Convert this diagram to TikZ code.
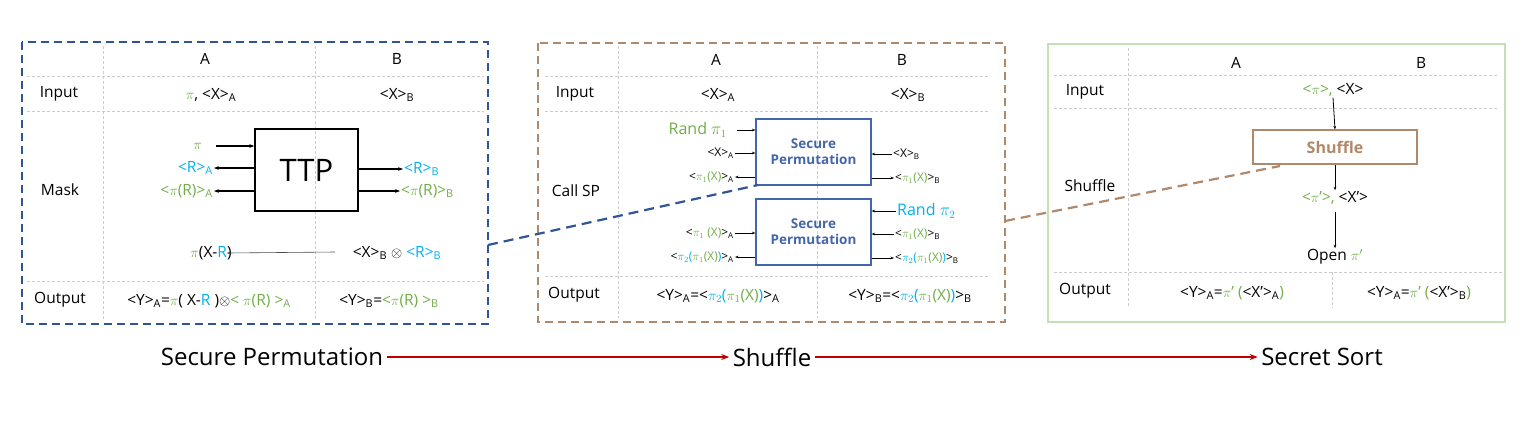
\documentclass[tikz,border=0pt]{standalone}
\usepackage{fontspec}
\setmainfont{Open Sans}
\usetikzlibrary{arrows.meta}
\definecolor{gr}{RGB}{112,173,71}
\definecolor{cy}{RGB}{0,176,240}
\definecolor{bl}{RGB}{47,85,151}
\definecolor{bx}{RGB}{68,102,170}
\definecolor{br}{RGB}{176,136,106}
\definecolor{lg}{RGB}{197,224,180}
\definecolor{rd}{RGB}{192,0,0}
\newcommand{\G}[1]{\textcolor{gr}{#1}}
\newcommand{\C}[1]{\textcolor{cy}{#1}}
\newcommand{\sub}[1]{\textsubscript{#1}}
\tikzset{
 grid/.style={draw=black!20,dash pattern=on 3pt off 2pt,line width=0.6pt},
 t/.style={font=\fontsize{15.5}{17}\selectfont,inner sep=1pt},
 ts/.style={font=\fontsize{12}{14}\selectfont,inner sep=1pt},
 arr/.style={-{Stealth[length=5pt]},line width=1.3pt},
 sarr/.style={-{Stealth[length=3.5pt]},line width=0.6pt},
 sp/.style={draw=bx,line width=1.2pt,minimum width=115pt,minimum height=66pt,align=center,font=\bfseries\fontsize{13.5}{16}\selectfont,text=bx},
 big/.style={font=\fontsize{24}{27}\selectfont},
}
\begin{document}
\begin{tikzpicture}[x=1pt,y=-1pt]
\useasboundingbox (0,0) rectangle (1522,432);
% ---------- Left panel
\draw[grid] (27,76)--(484,76) (27,111)--(484,111) (27,281)--(484,281) (103,46)--(103,320) (315,46)--(315,320);
\draw[bl,line width=2pt,dash pattern=on 8pt off 5pt] (22,42) rectangle (488,324);
\node[t] (lA) at (205,59) {A};
\node[t] (lB) at (397,59) {B};
\node[t] (lin) at (59,94) {Input};
\node[t] (lmask) at (60,190) {Mask};
\node[t] (lout) at (60,300) {Output};
\node[t] (li1) at (211,95) {\G{$\pi$}, <X>\sub{A}};
\node[t] (li2) at (397,95) {<X>\sub{B}};
\node[draw,line width=1.5pt,minimum width=103pt,minimum height=82pt,font=\fontsize{31}{33}\selectfont] (ttp) at (306.5,170) {TTP};
\node[t,anchor=east] (lpi) at (203,146) {\G{$\pi$}};
\node[t,anchor=east] (lRA) at (214,168) {\C{<R>\sub{A}}};
\node[t,anchor=east] (lpRA) at (214,191) {\G{<$\pi$(R)>\sub{A}}};
\node[t,anchor=west] (lRB) at (403,169) {\C{<R>\sub{B}}};
\node[t,anchor=west] (lpRB) at (400,191) {\G{<$\pi$(R)>\sub{B}}};
\draw[arr] (216,146)--(ttp.west|-lpi);
\draw[arr] (ttp.west|-lRA)--(lRA.east);
\draw[arr] (ttp.west|-lpRA)--(lpRA.east);
\draw[arr] (ttp.east|-lRB)--(lRB.west);
\draw[arr] (ttp.east|-lpRB)--(lpRB.west);
\node[t] (lxr) at (211,253) {\G{$\pi$}(X-\C{R})};
\node[t] (lxb) at (397,253) {<X>\sub{B} $\otimes$ \C{<R>\sub{B}}};
\coordinate (lc) at (335,252);
\draw[sarr,black!70] (lc) -- ([xshift=-6pt]lxr.east);
\path (lxr.east) ++(0,0);
\node[t] (lo1) at (209,301) {<Y>\sub{A}=\G{$\pi$}( X-\C{R} )$\otimes$\G{< $\pi$(R) >\sub{A}}};
\node[t] (lo2) at (389,301) {<Y>\sub{B}=\G{<$\pi$(R) >\sub{B}}};
% ---------- Middle panel
\draw[grid] (545,76)--(990,76) (545,111)--(990,111) (545,276)--(990,276) (618,46)--(618,318) (817,46)--(817,318);
\draw[br,line width=2pt,dash pattern=on 8pt off 5pt] (538,43) rectangle (1005,322);
\node[t] (mA) at (716,60) {A};
\node[t] (mB) at (902,60) {B};
\node[t] (min) at (575,94) {Input};
\node[t] (mcall) at (576,191) {Call SP};
\node[t] (mout) at (574,295) {Output};
\node[t] (mi1) at (718,95) {<X>\sub{A}};
\node[t] (mi2) at (908,95) {<X>\sub{B}};
\node[sp] (sp1) at (813.5,152) {Secure\\Permutation};
\node[sp] (sp2) at (813.5,232) {Secure\\Permutation};
\node[t,anchor=east,font=\fontsize{16}{18}\selectfont] (r1) at (728,130) {\G{Rand $\pi_1$}};
\node[ts,anchor=east] (xa) at (735,153) {<X>\sub{A}};
\node[ts,anchor=east] (p1a) at (735,177) {<\G{$\pi_1$(X)}>\sub{A}};
\node[ts,anchor=west] (xb) at (892,154) {<X>\sub{B}};
\node[ts,anchor=west] (p1b) at (894,178) {<\G{$\pi_1$(X)}>\sub{B}};
\draw[sarr] (737,130)--(sp1.west|-r1);
\draw[sarr] (xa.east)--(sp1.west|-xa);
\draw[sarr] (sp1.west|-p1a)--(p1a.east);
\draw[sarr] (xb.west)--(sp1.east|-xb);
\draw[sarr] (sp1.east|-p1b)--(p1b.west);
\node[t,anchor=west,font=\fontsize{16}{18}\selectfont] (r2) at (896,211) {\C{Rand $\pi_2$}};
\node[ts,anchor=east] (p1a2) at (735,233) {<\G{$\pi_1$ (X)}>\sub{A}};
\node[ts,anchor=east] (p2a) at (735,257) {<\C{$\pi_2$(}\G{$\pi_1$(X)}\C{)}>\sub{A}};
\node[ts,anchor=west] (p1b2) at (894,234) {<\G{$\pi_1$(X)}>\sub{B}};
\node[ts,anchor=west] (p2b) at (894,258) {<\C{$\pi_2$(}\G{$\pi_1$(X)}\C{)}>\sub{B}};
\draw[sarr] (r2.west)--(sp2.east|-r2);
\draw[sarr] (p1a2.east)--(sp2.west|-p1a2);
\draw[sarr] (sp2.west|-p2a)--(p2a.east);
\draw[sarr] (p1b2.west)--(sp2.east|-p1b2);
\draw[sarr] (sp2.east|-p2b)--(p2b.west);
\node[t] (mo1) at (718,296) {<Y>\sub{A}=<\C{$\pi_2$(}\G{$\pi_1$(X)}\C{)}>\sub{A}};
\node[t] (mo2) at (910,296) {<Y>\sub{B}=<\C{$\pi_2$(}\G{$\pi_1$(X)}\C{)}>\sub{B}};
% ---------- Right panel
\draw[grid] (1054,75)--(1497,75) (1054,108)--(1497,108) (1054,272)--(1502,272) (1128,48)--(1128,308) (1332,272)--(1332,308);
\draw[lg,line width=2pt] (1048,44) rectangle (1505,322);
\node[t] (rA) at (1236,63) {A};
\node[t] (rB) at (1421,63) {B};
\node[t] (rin) at (1085,92) {Input};
\node[t] (rsh) at (1090,186) {Shuffle};
\node[t] (rout) at (1085,291) {Output};
\node[t] (ri) at (1333,90) {\G{<$\pi$>,} <X>};
\node[draw=br,line width=1.2pt,minimum width=164pt,minimum height=34pt,font=\bfseries\fontsize{16}{18}\selectfont,text=br] (shf) at (1335,147) {Shuffle};
\node[t] (rx) at (1335,198) {\G{<$\pi$'>,} <X'>};
\node[t] (rop) at (1335,257) {Open \G{$\pi'$}};
\draw[sarr,line width=0.8pt] (ri.south)--(shf.north);
\draw[sarr,line width=0.8pt] (shf.south)--(rx.north);
\draw[sarr,line width=0.8pt] (1335,212)--(rop.north);
\node[t] (ro1) at (1232,293) {<Y>\sub{A}=\G{$\pi$'} \G{(}<X'>\sub{A}\G{)}};
\node[t] (ro2) at (1419,293) {<Y>\sub{A}=\G{$\pi$'} \G{(}<X'>\sub{B}\G{)}};
% ---------- connectors
\coordinate (c1) at (488,245);
\coordinate (c2) at (758,185);
\draw[bl,line width=2.2pt,dash pattern=on 10pt off 6pt] (c1)--(c2);
\coordinate (c3) at (1005,221);
\coordinate (c4) at (1280,166);
\draw[br,line width=2.2pt,dash pattern=on 10pt off 6pt] (c3)--(c4);
% ---------- bottom
\node[big] (s1) at (272,357) {Secure Permutation};
\node[big] (s2) at (772,357) {Shuffle};
\node[big] (s3) at (1322,357) {Secret Sort};
\draw[rd,line width=1.2pt,-{Stealth[length=8pt]}] (s1.east)--(s2.west);
\draw[rd,line width=1.2pt,-{Stealth[length=8pt]}] (s2.east)--(s3.west);
\end{tikzpicture}
\end{document}
